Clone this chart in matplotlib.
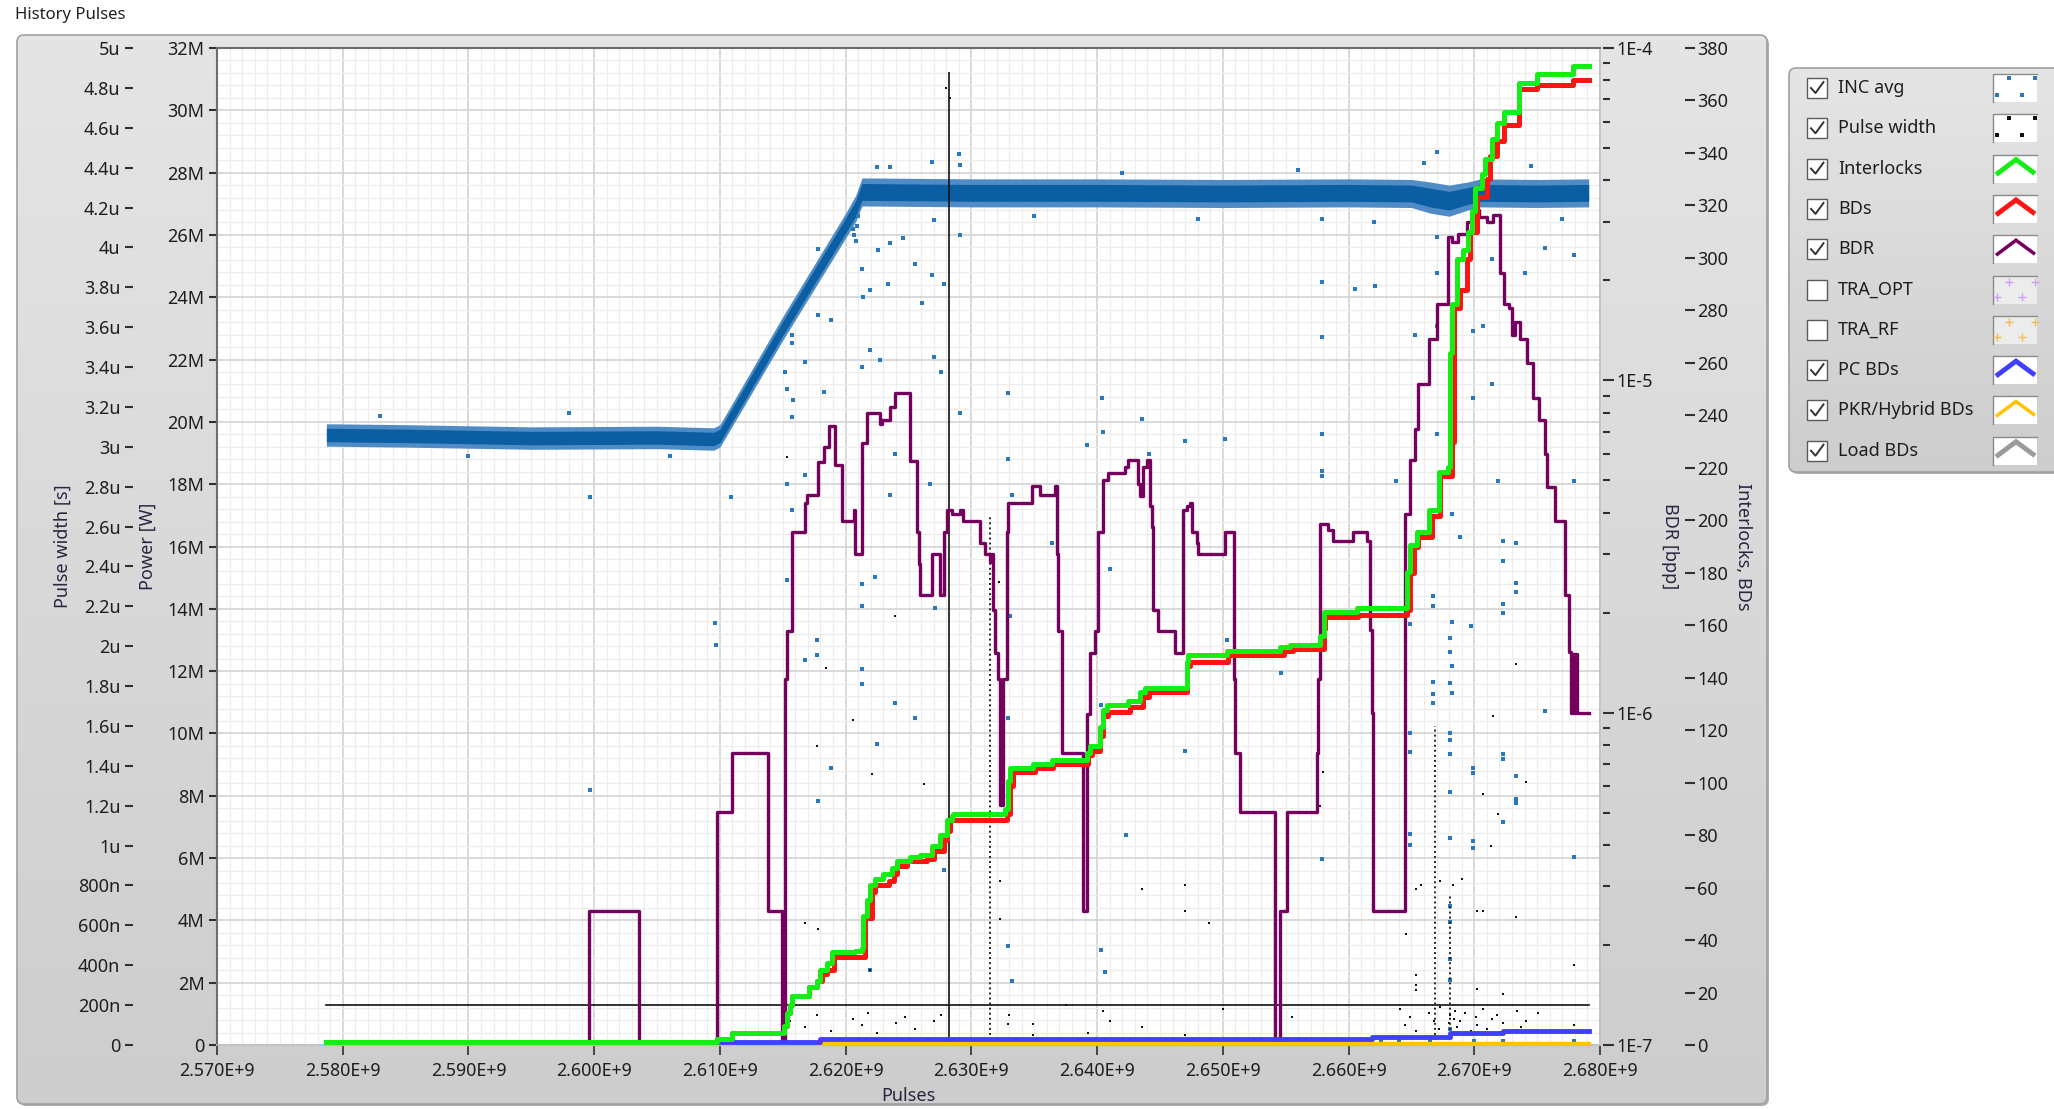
import numpy as np
import matplotlib.pyplot as plt
from matplotlib.colors import LinearSegmentedColormap
from matplotlib.patches import FancyBboxPatch, Rectangle
from matplotlib.ticker import MultipleLocator, FixedLocator, FuncFormatter, LogLocator, NullFormatter

plt.rcParams['font.family'] = ['Noto Sans', 'DejaVu Sans']

# x values below are in units of 1E+9 pulses

# INC avg (power): centre and half-width of the dense scatter band, MW
inc_x = [2.5787, 2.5850, 2.5950, 2.6050, 2.6095, 2.6100, 2.6150, 2.6200, 2.6208, 2.6213,
         2.6300, 2.6400, 2.6500, 2.6600, 2.6650, 2.6665, 2.6680, 2.6695, 2.6705, 2.6750, 2.6791]
inc_mid = [19.58, 19.55, 19.48, 19.50, 19.45, 19.55, 23.00, 26.30, 26.85, 27.38,
           27.35, 27.35, 27.33, 27.35, 27.33, 27.20, 27.10, 27.25, 27.35, 27.33, 27.35]
inc_half = [0.36, 0.36, 0.36, 0.36, 0.36, 0.36, 0.38, 0.40, 0.42, 0.45,
            0.45, 0.45, 0.45, 0.45, 0.45, 0.50, 0.50, 0.45, 0.45, 0.45, 0.45]

# INC avg stray points (MW)
inc_stray_x = [2.6178, 2.6188, 2.6157, 2.6157, 2.6152, 2.6153, 2.6158, 2.6157, 2.6168, 2.6183,
               2.6178, 2.6213, 2.6214, 2.6213, 2.6219, 2.6219, 2.6227, 2.6226, 2.6235, 2.6234,
               2.6246, 2.6255, 2.6261, 2.6269, 2.6270, 2.6276, 2.6278, 2.6270, 2.6291, 2.6291,
               2.6269, 2.6291, 2.6225, 2.6235,
               2.5997, 2.5997, 2.6096, 2.6097, 2.6109, 2.6153, 2.6157, 2.6153, 2.6168, 2.6177,
               2.6177, 2.6168, 2.6188, 2.6178, 2.6213, 2.6213, 2.6213, 2.6213, 2.6223, 2.6225,
               2.6239, 2.6255, 2.6235, 2.6239, 2.6267, 2.6271, 2.6278, 2.6219,
               2.6329, 2.6329, 2.6332, 2.6331, 2.6329, 2.6329, 2.6332, 2.6404, 2.6405, 2.6392,
               2.6403, 2.6403, 2.6406, 2.6364, 2.6436, 2.6441, 2.6470, 2.6470, 2.6502, 2.6503,
               2.6579, 2.6579, 2.6579, 2.6546, 2.6423, 2.6410, 2.6291,
               2.6579, 2.6579, 2.6579, 2.6579, 2.6579, 2.6670, 2.6670, 2.6670, 2.6670, 2.6670,
               2.6672, 2.6682, 2.6682, 2.6682, 2.6682, 2.6699, 2.6699, 2.6707, 2.6714, 2.6714,
               2.6723, 2.6733, 2.6740, 2.6756, 2.6779, 2.6779, 2.6719, 2.6697, 2.6689, 2.6638,
               2.6653, 2.6605, 2.6621,
               2.6681, 2.6681, 2.6681, 2.6681, 2.6681, 2.6681, 2.6681, 2.6681, 2.6681, 2.6681,
               2.6681, 2.6681, 2.6649, 2.6649, 2.6649, 2.6649, 2.6649, 2.6723, 2.6723, 2.6723,
               2.6723, 2.6723, 2.6723, 2.6733, 2.6733, 2.6733, 2.6733, 2.6733, 2.6699, 2.6699,
               2.6699, 2.6699, 2.6667, 2.6667, 2.6667, 2.6667, 2.6667, 2.6779, 2.6756,
               2.6626, 2.6640, 2.6665, 2.6681, 2.6700, 2.6723, 2.6733, 2.6779, 2.6415, 2.6470,
               2.6290, 2.6350, 2.6420, 2.6480, 2.6560, 2.6620, 2.6660, 2.6745, 2.6770, 2.5830,
               2.5900, 2.5980, 2.6060, 2.6207, 2.6208, 2.6209, 2.6210, 2.6206]
inc_stray_p = [25.54, 23.27, 22.78, 22.52, 21.61, 21.07, 20.70, 20.16, 21.93, 20.96,
               23.43, 24.92, 24.01, 21.77, 24.23, 22.30, 21.98, 25.51, 25.73, 24.44,
               25.89, 25.08, 23.80, 24.71, 22.09, 21.61, 24.44, 26.47, 25.99, 20.27,
               28.35, 28.24, 28.19, 28.19,
               17.59, 8.19, 13.55, 12.85, 17.59, 18.00, 17.17, 14.94, 18.28, 13.00,
               12.52, 12.36, 8.89, 7.84, 14.80, 14.10, 12.08, 11.60, 15.01, 9.65,
               10.97, 10.49, 17.65, 18.97, 18.00, 14.03, 5.62, 2.41,
               20.92, 18.82, 17.65, 13.76, 10.49, 3.18, 2.07, 20.78, 19.67, 19.25,
               10.91, 3.05, 2.34, 16.12, 20.09, 18.97, 19.39, 9.44, 19.46, 13.00,
               19.61, 18.42, 5.97, 11.95, 6.74, 15.29, 20.30,
               26.51, 24.50, 19.62, 18.26, 22.71, 28.66, 25.94, 24.79, 23.07, 19.62,
               17.90, 17.04, 13.59, 12.16, 11.30, 22.92, 20.77, 23.07, 25.22, 21.20,
               16.17, 16.11, 24.79, 25.58, 25.36, 18.11, 18.11, 13.45, 16.32, 18.11,
               22.78, 24.28, 24.35,
               13.07, 12.62, 11.61, 10.03, 9.80, 9.35, 8.12, 6.65, 4.46, 3.95,
               2.77, 2.09, 13.52, 10.03, 9.41, 6.76, 6.43, 15.55, 14.14, 13.86,
               9.35, 9.18, 7.16, 14.82, 14.53, 8.62, 7.89, 7.78, 8.90, 8.73,
               6.54, 6.31, 14.42, 14.08, 11.66, 11.27, 10.99, 6.03, 10.71,
               0.13, 0.13, 0.13, 0.50, 0.13, 0.13, 0.45, 0.13, 0.13, 0.13,
               28.60, 26.60, 28.00, 26.50, 28.10, 26.40, 28.30, 28.20, 26.50, 20.20,
               18.90, 20.30, 18.90, 26.00, 25.80, 26.30, 26.60, 26.20]

# Pulse width (us)
pw_x = [2.5787, 2.6791]
pw_y = [0.2, 0.2]
pw_col_x = [2.6282, 2.6315, 2.6669, 2.6681]
pw_col_top = [4.88, 2.65, 1.60, 0.75]
pw_stray_x = [2.6153, 2.6206, 2.6221, 2.6262, 2.6168, 2.6178, 2.6184, 2.6177, 2.6239, 2.6219,
              2.6156, 2.6168, 2.6177, 2.6188, 2.6206, 2.6213, 2.6218, 2.6225, 2.6240, 2.6247,
              2.6255, 2.6270, 2.6276, 2.6322, 2.6323, 2.6323, 2.6436, 2.6470, 2.6470, 2.6489,
              2.6580, 2.6577, 2.6393, 2.6405, 2.6329, 2.6349, 2.6375, 2.6349, 2.6393, 2.6436,
              2.6470, 2.6330, 2.6410, 2.6500, 2.6555, 2.6646, 2.6654, 2.6654, 2.6654, 2.6658,
              2.6654, 2.6673, 2.6683, 2.6690, 2.6702, 2.6707, 2.6713, 2.6733, 2.6741, 2.6719,
              2.6715, 2.6733, 2.6707, 2.6779, 2.6702, 2.6723, 2.6641, 2.6645, 2.6649, 2.6654,
              2.6664, 2.6668, 2.6672, 2.6673, 2.6680, 2.6681, 2.6682, 2.6684, 2.6685, 2.6686,
              2.6689, 2.6693, 2.6697, 2.6701, 2.6702, 2.6707, 2.6710, 2.6714, 2.6718, 2.6723,
              2.6734, 2.6737, 2.6741, 2.6751, 2.6779, 2.6280, 2.6283]
pw_stray_y = [2.95, 1.63, 1.36, 1.31, 0.61, 0.58, 1.89, 1.50, 2.15, 0.377,
              0.12, 0.09, 0.15, 0.07, 0.13, 0.10, 0.16, 0.06, 0.11, 0.14,
              0.08, 0.12, 0.15, 2.32, 0.82, 0.63, 0.78, 0.80, 0.67, 0.61,
              1.37, 1.20, 1.13, 0.17, 0.105, 0.105, 0.20, 0.05, 0.06, 0.09,
              0.05, 0.15, 0.12, 0.18, 0.14, 0.556, 0.353, 0.30, 0.275, 0.80,
              0.784, 0.82, 0.80, 0.83, 0.67, 0.67, 1.00, 0.64, 1.32, 1.16,
              1.65, 1.91, 1.26, 0.40, 0.28, 0.256, 0.18, 0.10, 0.14, 0.07,
              0.16, 0.12, 0.08, 0.19, 0.11, 0.15, 0.06, 0.13, 0.17, 0.09,
              0.12, 0.16, 0.07, 0.14, 0.10, 0.18, 0.08, 0.13, 0.15, 0.11,
              0.17, 0.09, 0.12, 0.16, 0.10, 4.80, 4.75]

# BDR (breakdowns per pulse, in units of 1E-6), step values
bdr_x = [2.57870, 2.59962, 2.60360, 2.60975, 2.61095, 2.61379, 2.61493, 2.61519, 2.61532, 2.61572,
         2.61678, 2.61691, 2.61784, 2.61824, 2.61864, 2.61917, 2.61970, 2.62063, 2.62076, 2.62129,
         2.62169, 2.62275, 2.62288, 2.62355, 2.62394, 2.62514, 2.62567, 2.62580, 2.62593, 2.62686,
         2.62752, 2.62779, 2.62805, 2.62844, 2.62910, 2.62937, 2.63069, 2.63109, 2.63149, 2.63162,
         2.63170, 2.63189, 2.63215, 2.63228, 2.63255, 2.63281, 2.63295, 2.63480, 2.63547, 2.63666,
         2.63679, 2.63692, 2.63719, 2.63891, 2.63918, 2.63944, 2.63984, 2.64011, 2.64050, 2.64090,
         2.64223, 2.64249, 2.64329, 2.64342, 2.64369, 2.64395, 2.64422, 2.64435, 2.64448, 2.64488,
         2.64621, 2.64687, 2.64713, 2.64740, 2.64753, 2.64793, 2.64806, 2.65018, 2.65085, 2.65098,
         2.65138, 2.65416, 2.65451, 2.65509, 2.65748, 2.65761, 2.65774, 2.65840, 2.65880, 2.66039,
         2.66145, 2.66172, 2.66185, 2.66198, 2.66450, 2.66490, 2.66530, 2.66556, 2.66636, 2.66702,
         2.66795, 2.66822, 2.66870, 2.66941, 2.67021, 2.67034, 2.67100, 2.67150, 2.67206, 2.67233,
         2.67273, 2.67299, 2.67326, 2.67365, 2.67418, 2.67471, 2.67511, 2.67564, 2.67577, 2.67644,
         2.67723, 2.67750, 2.67770, 2.67780, 2.67790, 2.67800, 2.67816, 2.67909]
bdr_y = [0.1, 0.253, 0.1, 0.504, 0.756, 0.253, 0.1, 1.26, 1.76, 3.5,
         4.26, 4.52, 5.68, 6.3, 7.3, 5.58, 3.78, 4.07, 3.0, 6.5,
         8.0, 7.4, 7.6, 8.3, 9.16, 5.7, 3.5, 2.8, 2.26, 3.0,
         2.26, 3.5, 4.07, 3.95, 4.07, 3.78, 3.25, 3.0, 2.84, 3.0,
         2.04, 1.51, 1.26, 0.527, 1.26, 3.5, 4.26, 4.81, 4.52, 4.81,
         3.0, 1.76, 0.756, 0.253, 0.99, 1.51, 1.76, 3.5, 5.0, 5.26,
         5.5, 5.76, 4.87, 4.5, 5.5, 5.76, 4.19, 3.62, 2.04, 1.76,
         1.51, 4.07, 4.19, 4.26, 3.5, 3.25, 3.0, 3.5, 1.26, 0.756,
         0.504, 0.1, 0.253, 0.504, 0.756, 1.26, 3.7, 3.55, 3.29, 3.5,
         3.29, 1.77, 1.0, 0.253, 3.96, 5.76, 7.14, 9.75, 13.3, 17.0,
         27.0, 26.0, 27.5, 30.0, 32.6, 31.0, 30.0, 31.5, 21.1, 17.0,
         16.5, 13.7, 15.0, 13.3, 11.3, 8.87, 7.6, 6.0, 4.77, 3.78,
         2.26, 1.52, 1.0, 1.5, 1.0, 1.5, 1.0, 1.0]

# Interlocks (cumulative count)
int_x = [2.5787, 2.60975, 2.61095, 2.61506, 2.61532, 2.61559, 2.61572, 2.61705, 2.61771, 2.61798,
         2.61851, 2.61890, 2.62076, 2.62129, 2.62142, 2.62169, 2.62195, 2.62235, 2.62301, 2.62368,
         2.62408, 2.62514, 2.62593, 2.62686, 2.62752, 2.62805, 2.62845, 2.62857, 2.63268, 2.63295,
         2.63308, 2.63494, 2.63639, 2.63918, 2.63944, 2.64024, 2.64050, 2.64077, 2.64249, 2.64342,
         2.64382, 2.64713, 2.64727, 2.65032, 2.65456, 2.65536, 2.65774, 2.65801, 2.66066, 2.66464,
         2.66490, 2.66543, 2.66636, 2.66716, 2.66795, 2.66808, 2.66822, 2.66861, 2.66914, 2.66954,
         2.66981, 2.67007, 2.67060, 2.67087, 2.67140, 2.67180, 2.67233, 2.67352, 2.67498, 2.67789,
         2.67909]
int_y = [1.0, 2.3, 4.7, 7.2, 12.2, 15.4, 18.7, 22.1, 24.5, 28.7,
         31.2, 35.3, 36.0, 37.0, 49.3, 55.3, 61.0, 63.4, 65.0, 67.5,
         70.0, 71.6, 72.5, 75.8, 80.0, 85.7, 87.3, 88.2, 90.0, 100.6,
         105.6, 107.2, 108.8, 111.3, 113.8, 121.2, 127.8, 129.5, 131.0, 134.5,
         136.0, 146.0, 148.6, 150.2, 151.8, 152.6, 155.9, 165.0, 166.5, 180.3,
         190.5, 195.5, 204.0, 218.5, 220.3, 263.7, 282.4, 299.5, 303.0, 309.8,
         318.0, 326.8, 332.0, 337.8, 345.5, 351.5, 355.7, 366.8, 370.2, 373.0,
         373.0]

# BDs (cumulative count)
bd_x = [2.5787, 2.60975, 2.61095, 2.61506, 2.61532, 2.61559, 2.61572, 2.61705, 2.61771, 2.61811,
        2.61851, 2.61904, 2.62156, 2.62209, 2.62235, 2.62341, 2.62381, 2.62408, 2.62487, 2.62646,
        2.62699, 2.62779, 2.62805, 2.62832, 2.63281, 2.63308, 2.63334, 2.63507, 2.63653, 2.63931,
        2.63958, 2.64024, 2.64050, 2.64090, 2.64263, 2.64369, 2.64409, 2.64713, 2.64740, 2.65045,
        2.65483, 2.65562, 2.65801, 2.65814, 2.66079, 2.66464, 2.66490, 2.66517, 2.66556, 2.66663,
        2.66729, 2.66822, 2.66835, 2.66888, 2.66941, 2.66967, 2.67021, 2.67100, 2.67127, 2.67180,
        2.67233, 2.67352, 2.67498, 2.67789, 2.67909]
bd_y = [1.0, 2.3, 4.7, 7.2, 12.2, 15.4, 18.7, 22.1, 24.5, 27.0,
        28.7, 33.6, 48.5, 58.3, 61.0, 62.5, 65.0, 68.3, 70.1, 70.9,
        74.1, 78.2, 81.5, 85.7, 88.0, 98.9, 103.9, 105.6, 107.2, 110.5,
        112.0, 117.9, 125.4, 127.0, 128.7, 132.8, 134.5, 144.4, 146.0, 148.6,
        150.2, 150.8, 158.5, 163.0, 164.0, 165.8, 180.0, 190.0, 193.8, 201.6,
        216.8, 230.0, 281.0, 287.7, 299.5, 310.0, 323.4, 330.0, 338.8, 344.7,
        350.6, 364.3, 366.0, 367.8, 367.8]

# PC BDs, PKR/Hybrid BDs, Load BDs
pc_x = [2.5787, 2.6180, 2.6619, 2.6681, 2.6723, 2.6791]
pc_y = [1.0, 2.2, 3.0, 4.6, 5.4, 5.4]
pkr_x = [2.5787, 2.6791]
pkr_y = [0.4, 0.4]
load_x = [2.5787, 2.6791]
load_y = [0.4, 0.4]

legend_names = ['INC avg', 'Pulse width', 'Interlocks', 'BDs', 'BDR', 'TRA_OPT', 'TRA_RF',
                'PC BDs', 'PKR/Hybrid BDs', 'Load BDs']
legend_checked = [True, True, True, True, True, False, False, True, True, True]

for a, b in [(inc_x, inc_mid), (inc_x, inc_half), (inc_stray_x, inc_stray_p),
             (pw_stray_x, pw_stray_y), (bdr_x, bdr_y), (int_x, int_y), (bd_x, bd_y)]:
    assert len(a) == len(b)


def X(v):
    return np.asarray(v) * 1e9


def fmt_x(v, pos):
    return f"{v / 1e9:.3f}E+9"


def fmt_power(v, pos):
    return "0" if abs(v) < 1 else f"{v / 1e6:.0f}M"


def fmt_pw(v, pos):
    if abs(v) < 1e-12:
        return "0"
    if v < 0.99e-6:
        return f"{v * 1e9:.0f}n"
    return f"{round(v * 1e6, 3):g}u"


def fmt_bdr(v, pos):
    return f"1E{int(round(np.log10(v)))}"


W, H = 2054, 1109
fig = plt.figure(figsize=(W / 100, H / 100), dpi=100)
fig.patch.set_facecolor('white')

# background panels (pixel coordinates)
bg = fig.add_axes([0, 0, 1, 1], zorder=0)
bg.set_axis_off()
panel_cmap = LinearSegmentedColormap.from_list('panel', ['#e5e5e5', '#cdcdcd'])
grad = np.linspace(0, 1, 256).reshape(-1, 1)


def panel(x0, y0, x1, y1):
    bg.add_patch(FancyBboxPatch((x0 + 2, y0 + 2), x1 - x0, y1 - y0,
                                boxstyle='round,pad=0,rounding_size=7', fc='#b0b0b0', ec='none', zorder=1))
    box = FancyBboxPatch((x0, y0), x1 - x0, y1 - y0, boxstyle='round,pad=0,rounding_size=7',
                         fc='none', ec='#a0a0a0', lw=1.2, zorder=3)
    bg.add_patch(box)
    im = bg.imshow(grad, cmap=panel_cmap, extent=(x0, x1, y1, y0), aspect='auto', zorder=2)
    im.set_clip_path(box)


panel(17, 35, 1767, 1104)
panel(1789, 68, 2080, 472)
bg.text(15, 15, 'History Pulses', fontsize=12, va='center', ha='left', color='#222222')

# legend rows
leg_colors = ['#2b79bd', '#111111', '#14ee14', '#ff1414', '#76005e', '#d59cf5', '#f2be55',
              '#3f3fff', '#ffc400', '#9a9a9a']
leg_kind = ['dots', 'dots', 'line', 'line', 'line', 'cross', 'cross', 'line', 'line', 'line']
leg_lw = [0, 0, 3.5, 3.5, 2.5, 0, 0, 3.5, 2.5, 3.5]
for i, name in enumerate(legend_names):
    yc = 88 + 40.3 * i
    bg.add_patch(Rectangle((1807, yc - 10), 20, 20, fc='white', ec='#5a5a5a', lw=1.0, zorder=5))
    if legend_checked[i]:
        bg.plot([1811, 1815.5, 1823.5], [yc, yc + 5, yc - 6], color='#333333', lw=1.4, zorder=6)
    bg.text(1838, yc, name, fontsize=13, va='center', ha='left', color='#1e1e1e', zorder=6)
    face = '#ececec' if leg_kind[i] == 'cross' else 'white'
    bg.add_patch(Rectangle((1993, yc - 14), 44, 28, fc=face, ec='none', zorder=5))
    bg.plot([1993, 1993, 2037], [yc + 14, yc - 14, yc - 14], color='#8a8a8a', lw=1.0, zorder=6)
    c = leg_colors[i]
    if leg_kind[i] == 'line':
        bg.plot([1996, 2016, 2035], [yc + 6, yc - 9, yc + 5], color=c, lw=leg_lw[i], zorder=7,
                solid_joinstyle='miter', solid_capstyle='butt')
    elif leg_kind[i] == 'dots':
        bg.scatter([2009, 2035, 1997, 2022], [yc - 10, yc - 10, yc + 7, yc + 7], s=5, color=c,
                   marker='s', lw=0, zorder=7)
    else:
        bg.scatter([2009, 2035, 1997, 2022], [yc - 8, yc - 8, yc + 7, yc + 7], s=40, color=c,
                   marker='+', lw=1.0, zorder=7)

bg.set_xlim(0, W)
bg.set_ylim(H, 0)

# plot area
L, R, T, B = 217, 1600, 48, 1045
ax = fig.add_axes([L / W, 1 - B / H, (R - L) / W, (B - T) / H], zorder=1)
ax_pw = ax.twinx()
ax_bdr = ax.twinx()
ax_int = ax.twinx()
ax_pw.set_zorder(2)
ax_bdr.set_zorder(3)
ax_int.set_zorder(4)

ax.set_facecolor('white')
ax.set_xlim(2.57e9, 2.68e9)
ax.set_ylim(0, 32e6)
ax.xaxis.set_major_locator(MultipleLocator(1e7))
ax.xaxis.set_minor_locator(MultipleLocator(1e6))
ax.yaxis.set_major_locator(MultipleLocator(2e6))
ax.yaxis.set_minor_locator(MultipleLocator(0.4e6))
ax.xaxis.set_major_formatter(FuncFormatter(fmt_x))
ax.yaxis.set_major_formatter(FuncFormatter(fmt_power))
ax.grid(which='major', color='#d3d3d3', lw=1.2)
ax.grid(which='minor', color='#ededed', lw=0.9)
ax.set_axisbelow(True)
ax.tick_params(which='minor', length=0)
ax.tick_params(axis='x', which='major', direction='out', length=7, width=1.2, color='#303030',
               labelsize=12.8, labelcolor='#1e1e1e', pad=5)
ax.tick_params(axis='y', which='major', direction='out', length=6, width=1.5, color='#303030',
               labelsize=13, labelcolor='#1e1e1e', pad=3)
for s in ['top', 'left']:
    ax.spines[s].set_color('#6e6e6e')
    ax.spines[s].set_linewidth(1.5)
for s in ['right', 'bottom']:
    ax.spines[s].set_color('#c0c0c0')
    ax.spines[s].set_linewidth(1.2)

for a in (ax_pw, ax_bdr, ax_int):
    for s in a.spines.values():
        s.set_visible(False)

# pulse width axis (outer left)
ax_pw.yaxis.tick_left()
ax_pw.yaxis.set_label_position('left')
ax_pw.spines['left'].set_position(('axes', (133 - L) / (R - L)))
ax_pw.set_ylim(0, 5e-6)
ax_pw.yaxis.set_major_locator(FixedLocator(np.arange(26) * 0.2e-6))
ax_pw.yaxis.set_major_formatter(FuncFormatter(fmt_pw))
ax_pw.tick_params(axis='y', direction='out', length=6, width=1.5, color='#303030',
                  labelsize=13, labelcolor='#1e1e1e', pad=3)

# BDR log axis (inner right)
ax_bdr.set_yscale('log')
ax_bdr.set_ylim(1e-7, 1e-4)
ax_bdr.spines['right'].set_position(('axes', (1603 - L) / (R - L)))
ax_bdr.yaxis.set_major_locator(LogLocator(base=10, numticks=10))
ax_bdr.yaxis.set_minor_locator(LogLocator(base=10, subs=np.arange(2, 10), numticks=20))
ax_bdr.yaxis.set_major_formatter(FuncFormatter(fmt_bdr))
ax_bdr.yaxis.set_minor_formatter(NullFormatter())
ax_bdr.tick_params(axis='y', which='major', direction='out', length=8, width=1.5, color='#303030',
                   labelsize=13, labelcolor='#1e1e1e', pad=2)
ax_bdr.tick_params(axis='y', which='minor', direction='out', length=5, width=1.5, color='#303030')

# interlocks axis (outer right)
ax_int.spines['right'].set_position(('axes', (1685 - L) / (R - L)))
ax_int.set_ylim(0, 380)
ax_int.yaxis.set_major_locator(MultipleLocator(20))
ax_int.tick_params(axis='y', direction='out', length=7, width=1.5, color='#303030',
                   labelsize=13, labelcolor='#1e1e1e', pad=2)

# axis titles
lab = dict(fontsize=13, color='#262640')
ax.set_xlabel('Pulses', **lab)
ax.xaxis.set_label_coords(0.5, (B - 1096) / (B - T))
ax.xaxis.label.set_va('center')
ax.set_ylabel('Power [W]', **lab)
ax.yaxis.set_label_coords((148 - L) / (R - L), 0.5)
ax.yaxis.label.set_va('center')
ax_pw.set_ylabel('Pulse width [s]', **lab)
ax_pw.yaxis.set_label_coords((63 - L) / (R - L), 0.5)
ax_pw.yaxis.label.set_va('center')
ax_bdr.set_ylabel('BDR [bpp]', rotation=270, **lab)
ax_bdr.yaxis.set_label_coords((1670 - L) / (R - L), 0.5)
ax_bdr.yaxis.label.set_va('center')
ax_int.set_ylabel('Interlocks, BDs', rotation=270, **lab)
ax_int.yaxis.set_label_coords((1743 - L) / (R - L), 0.5)
ax_int.yaxis.label.set_va('center')

# INC avg
mid = np.array(inc_mid)
half = np.array(inc_half)
ax.fill_between(X(inc_x), (mid - half) * 1e6, (mid + half) * 1e6, color='#4f8cc5', lw=0)
ax.fill_between(X(inc_x), (mid - 0.6 * half) * 1e6, (mid + 0.6 * half) * 1e6,
                color='#0b5ea1', lw=0)
ax.scatter(X(inc_stray_x), np.array(inc_stray_p) * 1e6, s=7, color='#2b79bd', marker='s', lw=0)

# Pulse width
ax_pw.plot(X(pw_x), np.array(pw_y) * 1e-6, color='#111111', lw=1.2)
ax_pw.vlines(X(pw_col_x[:1]), 0, np.array(pw_col_top[:1]) * 1e-6, color='#111111', lw=1.2)
ax_pw.vlines(X(pw_col_x[1:]), 0, np.array(pw_col_top[1:]) * 1e-6, color='#222222', lw=1.4,
             linestyles=(0, (1, 1.6)))
ax_pw.scatter(X(pw_stray_x), np.array(pw_stray_y) * 1e-6, s=4, color='#111111', marker='s', lw=0)

# BDR
ax_bdr.step(X(bdr_x), np.array(bdr_y) * 1e-6, where='post', color='#76005e', lw=2.4)

# counts
ax_int.step(X(load_x), load_y, where='post', color='#9a9a9a', lw=3.0, clip_on=False)
ax_int.step(X(pkr_x), pkr_y, where='post', color='#ffc400', lw=3.0, clip_on=False)
ax_int.step(X(pc_x), pc_y, where='post', color='#3f3fff', lw=3.5, clip_on=False)
ax_int.step(X(bd_x), bd_y, where='post', color='#ff1414', lw=3.6, clip_on=False)
ax_int.step(X(int_x), int_y, where='post', color='#14ee14', lw=3.6, clip_on=False)

fig.savefig('out.png', dpi=100)
